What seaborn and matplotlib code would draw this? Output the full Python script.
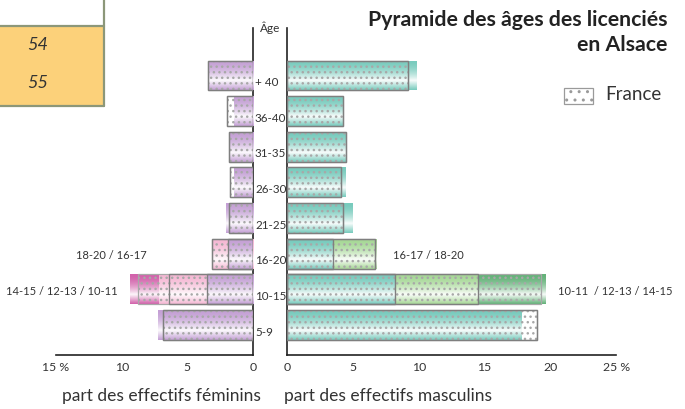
import numpy as np
import pandas as pd
import matplotlib.pyplot as plt
import matplotlib.patches as mpatches
import matplotlib.transforms as mtransforms
from matplotlib.colors import to_rgb
import seaborn as sns

sns.set_style('white')
plt.rcParams['font.family'] = ['Lato', 'DejaVu Sans']
plt.rcParams['hatch.linewidth'] = 1.0

W, H = 685, 409
TXT = '#333333'

# ──────────────────────────────────────────────────────────────────────
# Data (percent of licensed players, cumulative within each age band)
# ──────────────────────────────────────────────────────────────────────
ages = ['+ 40', '36-40', '31-35', '26-30', '21-25', '16-20', '10-15', '5-9']

fem_alsace_1 = [3.46, 1.45, 1.83, 1.43, 2.06, 1.87, 3.53, 7.23]
fem_alsace_2 = [0, 0, 0, 0, 0, 3.08, 7.18, 0]
fem_alsace_3 = [0, 0, 0, 0, 0, 0, 9.39, 0]
fem_france_1 = [3.44, 1.96, 1.83, 1.73, 1.86, 1.87, 3.53, 6.85]
fem_france_2 = [0, 0, 0, 0, 0, 3.15, 6.39, 0]
fem_france_3 = [0, 0, 0, 0, 0, 0, 8.76, 0]

mal_alsace_1 = [9.85, 4.20, 4.45, 4.45, 4.99, 3.52, 8.22, 17.84]
mal_alsace_2 = [0, 0, 0, 0, 0, 6.81, 14.52, 0]
mal_alsace_3 = [0, 0, 0, 0, 0, 0, 19.64, 0]
mal_france_1 = [9.17, 4.28, 4.45, 4.07, 4.28, 3.52, 8.22, 19.00]
mal_france_2 = [0, 0, 0, 0, 0, 6.68, 14.52, 0]
mal_france_3 = [0, 0, 0, 0, 0, 0, 19.31, 0]

fem_colors = ['#c4a0d5', '#f5b8d4', '#d262ab']
mal_colors = ['#78cbbd', '#a6d896', '#64b279']


def px(x, y):
    return x / W, 1 - y / H


def gradient_fill(ax, patch, color, z):
    # glossy look: coloured top/bottom, white band at about two thirds
    x0, y0 = patch.get_x(), patch.get_y()
    w, h = patch.get_width(), patch.get_height()
    if w == 0:
        patch.set_visible(False)
        return
    t = np.linspace(0, 1, 64)
    wf = np.where(t < 0.68, (t / 0.68) ** 1.8, 1 - (t - 0.68) / 0.32) * 0.95
    rgb = np.array(to_rgb(color))
    img = (rgb[None, :] * (1 - wf[:, None]) + wf[:, None])[:, None, :]
    im = ax.imshow(img, extent=(x0, x0 + w, y0 + h, y0), origin='upper',
                   aspect='auto', zorder=z, interpolation='bilinear')
    im.set_clip_path(patch)
    patch.set_facecolor('none')
    patch.set_zorder(z)


def draw_side(ax, alsace, france, colors):
    # Alsace bars, outermost layer first
    z = 2
    for vals, col in zip(alsace[::-1], colors[::-1]):
        n0 = len(ax.patches)
        sns.barplot(x=vals, y=ages, order=ages, orient='h', ax=ax,
                    color=col, width=0.84, linewidth=0)
        for p in ax.patches[n0:]:
            gradient_fill(ax, p, col, z)
        z += 1
    # France reference boxes (dotted, grey outline)
    outer = [max(v) for v in zip(*france)]
    n0 = len(ax.patches)
    sns.barplot(x=outer, y=ages, order=ages, orient='h', ax=ax,
                color='white', width=0.84, linewidth=0.9,
                edgecolor='#a8a8a8', hatch='...')
    for p in ax.patches[n0:]:
        p.set_facecolor('none')
        p.set_zorder(6)
    for vals in france[:-1]:
        n0 = len(ax.patches)
        sns.barplot(x=vals, y=ages, order=ages, orient='h', ax=ax,
                    color='white', width=0.84, linewidth=1.0,
                    edgecolor='#7f7f7f')
        for p, v in zip(ax.patches[n0:], vals):
            p.set_facecolor('none')
            p.set_zorder(7)
            if v == 0:
                p.set_visible(False)


fig = plt.figure(figsize=(W / 100, H / 100), dpi=100)

ax_top, ax_bot = 28, 355
axL = fig.add_axes([56 / W, 1 - ax_bot / H, (253 - 56) / W, (ax_bot - ax_top) / H])
axR = fig.add_axes([287 / W, 1 - ax_bot / H, (616.3 - 287) / W, (ax_bot - ax_top) / H])

draw_side(axL, [fem_alsace_1, fem_alsace_2, fem_alsace_3],
          [fem_france_1, fem_france_2, fem_france_3], fem_colors)
draw_side(axR, [mal_alsace_1, mal_alsace_2, mal_alsace_3],
          [mal_france_1, mal_france_2, mal_france_3], mal_colors)

row = 35.64
y_low = 7 + (ax_bot - 325) / row
y_high = -(75.5 - ax_top) / row
for ax in (axL, axR):
    ax.set_ylim(y_low, y_high)
    ax.set_yticks([])
    ax.set_ylabel('')
    ax.set_xlabel('')
    for s in ax.spines.values():
        s.set_color('#222222')
        s.set_linewidth(1.2)
    ax.spines['top'].set_visible(False)
    ax.tick_params(axis='x', direction='in', length=7, width=1.1,
                   colors='#222222', labelcolor=TXT, labelsize=8.8, pad=5)

axL.set_xlim(15, 0)
axL.spines['left'].set_visible(False)
axL.set_xticks([15, 10, 5, 0])
axL.set_xticklabels(['15 %', '10', '5', '0'])

axR.set_xlim(0, 25)
axR.spines['right'].set_visible(False)
axR.set_xticks([0, 5, 10, 15, 20, 25])
axR.set_xticklabels(['0', '5', '10', '15', '20', '25 %'])

# age labels between the two halves
tr = mtransforms.blended_transform_factory(fig.transFigure, axL.transData)
for i, a in enumerate(ages):
    fig.text(255 / W, i + 0.2, a, transform=tr, ha='left', va='center',
             fontsize=8.4, color=TXT)
fig.text(*px(270, 28), 'Âge', ha='center', va='center', fontsize=8.5, color=TXT)

# sub-age labels
axL.text(8.09, 5.05, '18-20 / 16-17', ha='right', va='center', fontsize=8, color=TXT)
axL.text(10.3, 6.05, '14-15 / 12-13 / 10-11', ha='right', va='center', fontsize=8,
         color=TXT, clip_on=False)
axR.text(8.05, 5.05, '16-17 / 18-20', ha='left', va='center', fontsize=8, color=TXT,
         clip_on=False)
axR.text(20.58, 6.05, '10-11  / 12-13 / 14-15', ha='left', va='center', fontsize=8,
         color=TXT, clip_on=False)

# axis titles
fig.text(*px(161, 396), 'part des effectifs féminins', ha='center', va='center',
         fontsize=12.5, color=TXT)
fig.text(*px(388, 396), 'part des effectifs masculins', ha='center', va='center',
         fontsize=12.5, color=TXT)

# title
fig.text(*px(667, 20), 'Pyramide des âges des licenciés', ha='right', va='center',
         fontsize=15.3, fontweight='bold', color='#222222')
fig.text(*px(667, 45), 'en Alsace', ha='right', va='center',
         fontsize=15.3, fontweight='bold', color='#222222')

# legend
fig.patches.append(mpatches.Rectangle(px(564, 104), 29 / W, 16 / H, transform=fig.transFigure,
                                      facecolor='white', edgecolor='#9a9a9a', lw=0.9,
                                      hatch='..'))
fig.text(*px(605, 95), 'France', ha='left', va='center', fontsize=13.5, color=TXT)

# fragment of the neighbouring table, top left
fig.patches.append(mpatches.Rectangle(px(-5, 106), 109 / W, 80 / H, transform=fig.transFigure,
                                      facecolor='#fcd17a', edgecolor='none'))
for xs, ys in [([0, 104], [26, 26]), ([104, 104], [0, 106]), ([0, 104], [106, 106])]:
    fig.add_artist(plt.Line2D([x / W for x in xs], [1 - y / H for y in ys],
                              color='#8c9779', lw=1.6, transform=fig.transFigure))
fig.text(*px(38, 45), '54', ha='center', va='center', fontsize=13,
         style='italic', color=TXT)
fig.text(*px(38, 83), '55', ha='center', va='center', fontsize=13,
         style='italic', color=TXT)

fig.savefig('out.png', dpi=100)
